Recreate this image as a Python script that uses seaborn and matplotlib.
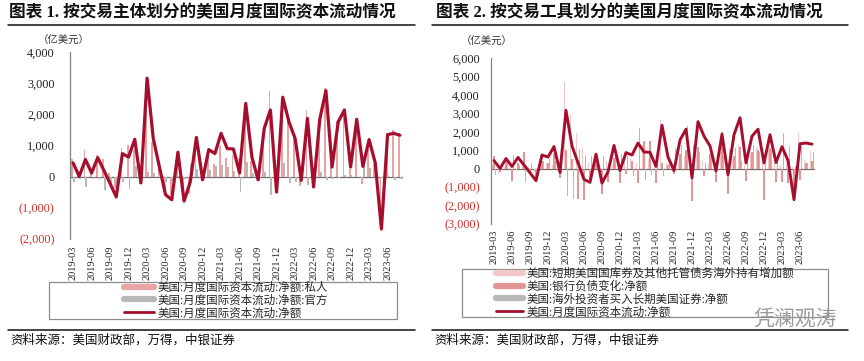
import numpy as np
import pandas as pd
import matplotlib
matplotlib.use("Agg")
import matplotlib.pyplot as plt
import seaborn as sns
from matplotlib.lines import Line2D
from matplotlib.patches import Rectangle

# ---------------- data ----------------
months = pd.date_range("2019-03", periods=54, freq="MS").strftime("%Y-%m").tolist()

net_flow = [440, 10, 550, 120, 610, 200, -220, -650, 740, 630,
            1200, -200, 3160, 1230, 310, -580, -740, 785, -785, -170, 1260, -100,
            870, 740, 1390, 900, 890, 120, 2350, 630, -100, 1550, 2140, -495,
            2550, 1760, 1230, -120, 1870, -330, 1840, 2760, 310, 1760, 2140, 310,
            1840, 330, 1190, 440, -1680, 1350, 1390, 1330]

private_flow = [580, 100, 870, 200, 690, 580, 120, -350, 935, 1030,
                850, -250, 3000, 1100, 300, -400, -600, 750, -700, -550, 1000, -150,
                650, 400, 1000, 590, 700, 600, 1880, 500, 50, 1400, 2740, -400,
                2100, 1950, 1400, -300, 2150, -100, 1700, 2850, 400, 1800, 2100, 250,
                1850, -250, 900, 400, -1650, 1300, 1500, 1400]

official_flow = [-170, -90, -330, -80, -80, -420, -340, -300, -170, -400,
                 350, 50, 150, 130, 0, -180, -140, 35, -85, 400, 260, 50,
                 220, 340, 390, 310, 190, -495, 470, 130, -150, 150, -600, -100,
                 450, -200, -170, 180, -280, -230, 140, -100, -90, -40, 40, 60,
                 -10, 580, 290, 40, -30, 50, -110, -70]

short_term = [250, -300, 100, 200, -100, 300, 100, -200, 50, 300,
              200, 100, 4700, 2970, 1930, 1100, 300, 200, -300, 400, 200, 300,
              400, 500, 300, 1300, 500, 200, 2650, 300, -200, 300, 700, 200,
              800, 400, 300, -200, 900, 200, 500, 1300, 200, 800, 1200, 300,
              1000, 300, 200, 300, 100, 1960, 490, 940]

bank_liab = [700, -200, 400, -680, 300, 880, -300, -500, 400, 300,
             800, -500, 1000, 500, -1640, -1680, -800, 300, -1400, -700, 600, -800,
             -300, 400, -800, 1500, 1480, -780, 300, 200, -300, 800, 1000, -1770,
             1200, -410, 800, -700, 2000, -1370, 700, 1200, -680, 900, 1000, -1680,
             1100, -700, -700, -800, -1770, -600, 300, 400]

long_term = [-320, 100, 300, 760, 200, -740, 300, -200, 400, 520,
             400, -300, -1500, -1640, 1070, 700, 670, 300, 670, 300, 700, 800,
             700, -380, 2200, -600, -320, 600, -400, 600, 1100, 1300, 2290, 1300,
             900, 300, 800, 600, 700, 1060, 1100, 400, 700, 1300, 900, 600,
             1000, 800, 1960, 1240, 160, 1200, 300, 900]

left_labels = ["美国:月度国际资本流动:净额:私人",
               "美国:月度国际资本流动:净额:官方",
               "美国:月度国际资本流动:净额"]
right_labels = ["美国:短期美国国库券及其他托管债务海外持有增加额",
                "美国:银行负债变化:净额",
                "美国:海外投资者买入长期美国证券:净额",
                "美国:月度国际资本流动:净额"]
left_yticks = [-2000, -1000, 0, 1000, 2000, 3000, 4000]
right_yticks = [-3000, -2000, -1000, 0, 1000, 2000, 3000, 4000, 5000, 6000]

# ---------------- style ----------------
sns.set_style("white")
plt.rcParams["font.family"] = ["Liberation Serif", "Noto Sans CJK SC"]
plt.rcParams["axes.unicode_minus"] = False

RED = "#a50f2d"
PINK = "#e8a3a3"
LIGHT = "#f4c8c8"
MED = "#e29595"
GRAY = "#b8b8b8"
AXC = "#808080"
NEG = "#d0312d"

W, H = 864, 361
fig = plt.figure(figsize=(W / 100, H / 100), dpi=100)

def fx(px):
    return px / W

def fy(py):
    return 1 - py / H

idx = np.arange(len(months))

def fmt(v):
    return f"({abs(v):,.0f})" if v < 0 else f"{v:,.0f}"

def style_axes(ax, yticks, ylim, ypad, xpad):
    ax.set_xlim(-0.5, len(months) - 0.5)
    ax.set_ylim(*ylim)
    ax.set_xticks(range(0, len(months), 3))
    ax.set_xticklabels(months[::3], rotation=90, fontsize=7.5)
    ax.set_yticks(yticks)
    ax.set_yticklabels([fmt(v) for v in yticks], fontsize=8.8)
    for lab, v in zip(ax.get_yticklabels(), yticks):
        lab.set_color(NEG if v < 0 else "#222222")
    ax.tick_params(axis="x", length=0, pad=xpad)
    ax.tick_params(axis="y", length=4, width=0.8, color=AXC, direction="out", pad=ypad)
    for s in ["top", "right", "bottom"]:
        ax.spines[s].set_visible(False)
    ax.spines["left"].set_color(AXC)
    ax.spines["left"].set_linewidth(0.9)
    ax.axhline(0, color="#6e6e6e", lw=0.9, zorder=1)
    ax.set_xlabel("")
    ax.set_ylabel("")
    ax.grid(False)

# ---------------- left chart ----------------
ax1 = fig.add_axes([fx(70), fy(239), fx(333), (239 - 52) / H])
df1 = pd.DataFrame({
    "idx": np.concatenate([idx, idx]),
    "value": private_flow + official_flow,
    "series": [left_labels[0]] * len(months) + [left_labels[1]] * len(months),
})
sns.barplot(data=df1, x="idx", y="value", hue="series", palette=[PINK, GRAY],
            hue_order=left_labels[:2], dodge=True, width=0.62, saturation=1,
            legend=False, ax=ax1, zorder=2, edgecolor="none", linewidth=0)
sns.lineplot(x=idx, y=net_flow, color=RED, lw=2.3, ax=ax1, zorder=3)
style_axes(ax1, left_yticks, (-2000, 4000), 7, 5)

# ---------------- right chart ----------------
ax2 = fig.add_axes([fx(491), fy(224), fx(324), (224 - 58) / H])
df2 = pd.DataFrame({
    "idx": np.concatenate([idx, idx, idx]),
    "value": short_term + bank_liab + long_term,
    "series": [right_labels[0]] * len(months) + [right_labels[1]] * len(months)
              + [right_labels[2]] * len(months),
})
sns.barplot(data=df2, x="idx", y="value", hue="series", palette=[LIGHT, MED, GRAY],
            hue_order=right_labels[:3], dodge=True, width=0.8, saturation=1,
            legend=False, ax=ax2, zorder=2, edgecolor="none", linewidth=0)
sns.lineplot(x=idx, y=net_flow, color=RED, lw=2.1, ax=ax2, zorder=3)
style_axes(ax2, right_yticks, (-3000, 6000), 4, 4)

# ---------------- titles, units, rules ----------------
tkw = dict(fontsize=12, fontweight="bold", va="center", ha="left", color="#111111")
fig.text(fx(9), fy(13), "图表 1. 按交易主体划分的美国月度国际资本流动情况", **tkw)
fig.text(fx(436), fy(13), "图表 2. 按交易工具划分的美国月度国际资本流动情况", **tkw)

ukw = dict(fontsize=7.5, va="center", ha="left", color="#333333")
fig.text(fx(38), fy(41), "（亿美元）", **ukw)
fig.text(fx(461), fy(42), "（亿美元）", **ukw)

for (x0, x1, y) in [(8, 415, 24.5), (432, 848, 24.5), (8, 415, 329.5), (432, 848, 329.5)]:
    fig.add_artist(Line2D([fx(x0), fx(x1)], [fy(y), fy(y)], color="#111111", lw=1.1,
                          transform=fig.transFigure))

skw = dict(fontsize=9, va="center", ha="left", color="#111111", style="italic")
fig.text(fx(10), fy(340), "资料来源：美国财政部，万得，中银证券", **skw)
fig.text(fx(434), fy(340), "资料来源：美国财政部，万得，中银证券", **skw)

# ---------------- legends ----------------
fig.add_artist(Rectangle((fx(49), fy(319)), fx(348), (319 - 282) / H, fill=False,
                         ec="#8c8c8c", lw=0.9, transform=fig.transFigure))
fig.add_artist(Rectangle((fx(462), fy(317)), fx(366), (317 - 269) / H, fill=False,
                         ec="#8c8c8c", lw=0.9, transform=fig.transFigure))

h1 = [Line2D([], [], color=PINK, lw=4.5), Line2D([], [], color=GRAY, lw=4.5),
      Line2D([], [], color=RED, lw=2)]
fig.legend(h1, left_labels, loc="center", bbox_to_anchor=(fx(226), fy(300.5)),
           frameon=False, handlelength=2.6, handletextpad=0.3,
           labelspacing=0.08, borderpad=0, prop={"size": 8.3})

h2 = [Line2D([], [], color=LIGHT, lw=4.5), Line2D([], [], color=MED, lw=4.5),
      Line2D([], [], color=GRAY, lw=4.5), Line2D([], [], color=RED, lw=2)]
fig.legend(h2, right_labels, loc="center", bbox_to_anchor=(fx(645), fy(293)),
           frameon=False, handlelength=2.4, handletextpad=0.3,
           labelspacing=0.08, borderpad=0, prop={"size": 8.3})

# watermark
fig.text(fx(795), fy(320), "凭澜观涛", fontsize=15, color="#9a9a9a", ha="center",
         va="center", family=["Noto Sans CJK SC"])

fig.savefig("out.png", dpi=100)
